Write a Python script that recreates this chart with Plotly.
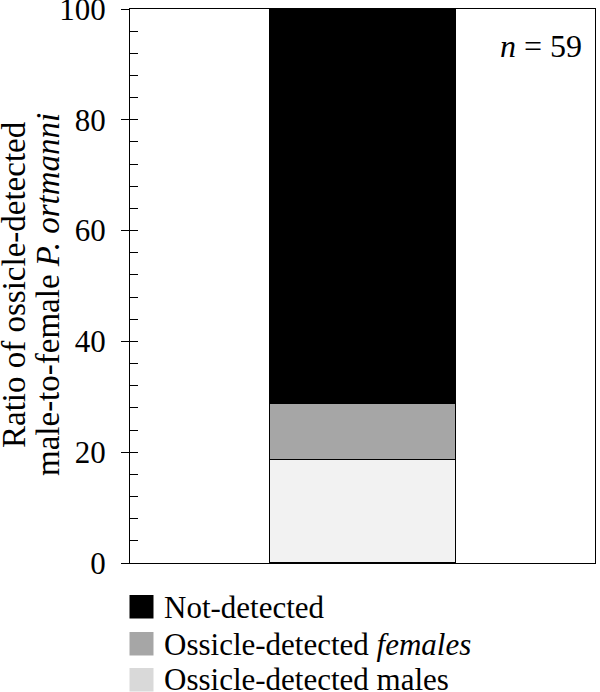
import plotly.graph_objects as go

# Data
category = ["P. ortmanni"]
n_total = 59
series_names = ["Ossicle-detected males", "Ossicle-detected females", "Not-detected"]
males_pct = [18.64]
females_pct = [10.17]
not_detected_pct = [71.19]
bar_colors = ["#f2f2f2", "#a6a6a6", "#000000"]
legend_labels = ["Not-detected", "Ossicle-detected <i>females</i>", "Ossicle-detected males"]
legend_colors = ["#000000", "#a6a6a6", "#d9d9d9"]
y_ticks = [0, 20, 40, 60, 80, 100]
title_lines = ["Ratio of ossicle-detected", "male-to-female <i>P. ortmanni</i>"]

FONT = "Liberation Serif"
FS = 31

fig = go.Figure()
for name, vals, col in zip(series_names, [males_pct, females_pct, not_detected_pct], bar_colors):
    fig.add_trace(go.Bar(x=category, y=vals, name=name, marker=dict(color=col, line=dict(color="black", width=1.2)),
                         width=0.4, showlegend=False))

# invisible trace for inner tick axis
fig.add_trace(go.Scatter(x=category, y=[None], yaxis="y2", showlegend=False, hoverinfo="skip"))

L, R, T, B = 130, 5, 9, 129
W, H = 600, 692
ph = H - T - B
pw = W - L - R

fig.update_layout(
    width=W, height=H, barmode="stack",
    margin=dict(l=L, r=R, t=T, b=B, autoexpand=False),
    paper_bgcolor="white", plot_bgcolor="white",
    font=dict(family=FONT, size=FS, color="black"),
    xaxis=dict(showline=True, linecolor="black", linewidth=1.3, mirror=True, showticklabels=False,
               ticks="", showgrid=False, range=[-0.5, 0.5], zeroline=False, automargin=False),
    yaxis=dict(range=[0, 100], tickvals=y_ticks, ticks="outside", ticklen=8, tickwidth=1.3, tickcolor="black",
               showline=True, linecolor="black", linewidth=1.3, mirror=True, showgrid=False, zeroline=False,
               automargin=False, ticklabeloverflow="allow",
               tickfont=dict(size=FS), ticklabelstandoff=9),
    yaxis2=dict(range=[0, 100], overlaying="y", side="left", anchor="x", dtick=4, tick0=0, ticks="inside",
                ticklen=8, tickwidth=1.3, tickcolor="black", showticklabels=False, showgrid=False,
                showline=False, zeroline=False, automargin=False),
)

def px_to_paper_x(px):
    return (px - L) / pw

def px_to_paper_y(py):
    return (H - B - py) / ph

# y-axis title (two lines, rotated)
for line, cx, cy in zip(title_lines, [14, 48], [285, 295]):
    fig.add_annotation(xref="paper", yref="paper", x=px_to_paper_x(cx), y=px_to_paper_y(cy),
                       xanchor="center", yanchor="middle", text=line, textangle=-90, showarrow=False,
                       font=dict(family=FONT, size=33, color="black"))

row_tops = [595, 632, 668]
for top, lab, col in zip(row_tops, legend_labels, legend_colors):
    fig.add_shape(type="rect", xref="paper", yref="paper",
                  x0=px_to_paper_x(129.5), x1=px_to_paper_x(153.5),
                  y0=px_to_paper_y(top), y1=px_to_paper_y(top + 23.5),
                  fillcolor=col, line=dict(width=0))
    fig.add_annotation(xref="paper", yref="paper", x=px_to_paper_x(162), y=px_to_paper_y(top + 12),
                       xanchor="left", yanchor="middle", text=lab, showarrow=False,
                       font=dict(family=FONT, size=FS, color="black"))

fig.add_annotation(xref="paper", yref="paper", x=px_to_paper_x(584), y=px_to_paper_y(46),
                   xanchor="right", yanchor="middle", text=f"<i>n</i> = {n_total}", showarrow=False,
                   font=dict(family=FONT, size=32, color="black"))

fig.write_html("out.html", config={"displayModeBar": False},
               post_script="document.body.style.margin='0';document.body.style.padding='0';")
